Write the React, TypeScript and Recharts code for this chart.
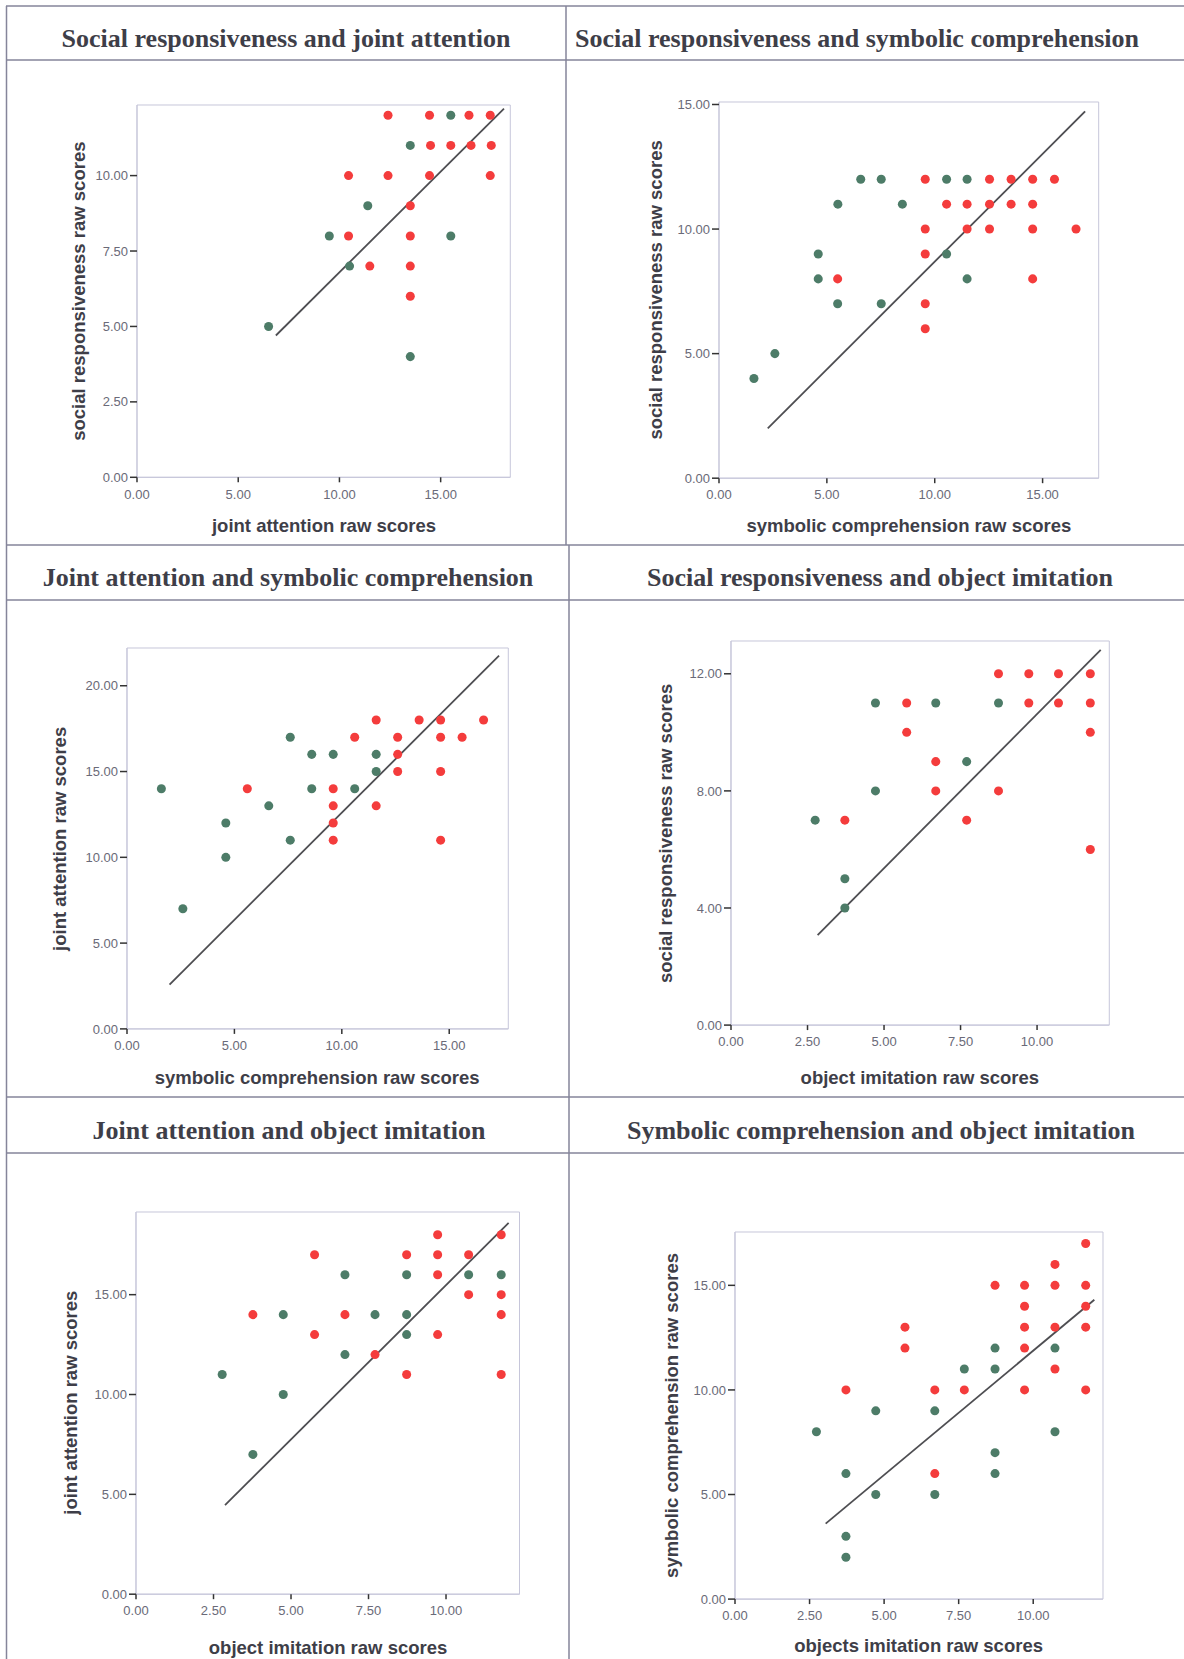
import { ReferenceArea, ReferenceLine, Scatter, ScatterChart, XAxis, YAxis } from "recharts";

type Pt = { x: number; y: number };
const pts = (a: number[][]): Pt[] => a.map(([x, y]) => ({ x, y }));

// panel 1: social responsiveness vs joint attention
const p1Green = pts([[6.5, 5], [9.5, 8], [10.5, 7], [11.4, 9], [13.5, 11], [13.5, 4], [15.5, 12], [15.5, 8]]);
const p1Red = pts([
  [12.4, 12], [14.45, 12], [16.4, 12], [17.45, 12], [14.5, 11], [15.5, 11], [16.5, 11], [17.5, 11],
  [10.45, 10], [12.4, 10], [14.45, 10], [17.45, 10], [13.5, 9], [10.45, 8], [13.5, 8], [11.5, 7], [13.5, 7], [13.5, 6],
]);
const p1Fit = [[6.86, 4.7], [18.13, 12.22]];

// panel 2: social responsiveness vs symbolic comprehension
const p2Green = pts([
  [6.57, 12], [7.52, 12], [10.55, 12], [11.5, 12], [5.51, 11], [8.5, 11], [4.6, 9], [10.55, 9],
  [4.6, 8], [11.5, 8], [5.5, 7], [7.52, 7], [2.59, 5], [1.62, 4],
]);
const p2Red = pts([
  [9.56, 12], [12.54, 12], [13.54, 12], [14.54, 12], [15.55, 12], [10.55, 11], [11.5, 11], [12.54, 11],
  [13.54, 11], [14.54, 11], [9.56, 10], [11.5, 10], [12.54, 10], [14.54, 10], [16.55, 10], [9.56, 9],
  [5.5, 8], [14.54, 8], [9.56, 7], [9.56, 6],
]);
const p2Fit = [[2.26, 2.0], [16.97, 14.72]];

// panel 3: joint attention vs symbolic comprehension
const p3Green = pts([
  [7.6, 17], [8.6, 16], [9.6, 16], [11.6, 16], [11.6, 15], [1.6, 14], [8.6, 14], [10.6, 14],
  [6.6, 13], [4.6, 12], [7.6, 11], [4.6, 10], [2.6, 7],
]);
const p3Red = pts([
  [11.6, 18], [13.6, 18], [14.6, 18], [16.6, 18], [10.6, 17], [12.6, 17], [14.6, 17], [15.6, 17],
  [12.6, 16], [12.6, 15], [14.6, 15], [5.6, 14], [9.6, 14], [9.6, 13], [11.6, 13], [9.6, 12], [9.6, 11], [14.6, 11],
]);
const p3Fit = [[1.98, 2.58], [17.32, 21.75]];

// panel 4: social responsiveness vs object imitation
const p4Green = pts([[4.72, 11], [6.69, 11], [8.74, 11], [7.7, 9], [4.72, 8], [2.75, 7], [3.72, 5], [3.72, 4]]);
const p4Red = pts([
  [8.74, 12], [9.73, 12], [10.7, 12], [11.74, 12], [5.74, 11], [9.73, 11], [10.7, 11], [11.74, 11],
  [5.74, 10], [11.74, 10], [6.69, 9], [6.69, 8], [8.74, 8], [3.72, 7], [7.7, 7], [11.74, 6],
]);
const p4Fit = [[2.83, 3.07], [12.08, 12.82]];

// panel 5: joint attention vs object imitation
const p5Green = pts([
  [6.74, 16], [8.73, 16], [10.73, 16], [11.78, 16], [4.75, 14], [7.71, 14], [8.73, 14], [8.73, 13],
  [6.74, 12], [2.78, 11], [4.75, 10], [3.77, 7],
]);
const p5Red = pts([
  [9.73, 18], [11.78, 18], [5.76, 17], [8.73, 17], [9.73, 17], [10.73, 17], [9.73, 16], [10.73, 15],
  [11.78, 15], [3.77, 14], [6.74, 14], [11.78, 14], [5.76, 13], [9.73, 13], [7.71, 12], [8.73, 11], [11.78, 11],
]);
const p5Fit = [[2.87, 4.46], [12.02, 18.6]];

// panel 6: symbolic comprehension vs object imitation
const p6Green = pts([
  [8.72, 12], [10.73, 12], [7.69, 11], [8.72, 11], [4.72, 9], [6.7, 9], [2.73, 8], [10.73, 8],
  [8.72, 7], [3.72, 6], [8.72, 6], [4.72, 5], [6.7, 5], [3.72, 3], [3.72, 2],
]);
const p6Red = pts([
  [11.76, 17], [10.73, 16], [8.72, 15], [9.71, 15], [10.73, 15], [11.76, 15], [9.71, 14], [11.76, 14],
  [5.7, 13], [9.71, 13], [10.73, 13], [11.76, 13], [5.7, 12], [9.71, 12], [10.73, 11], [3.72, 10],
  [6.7, 10], [7.69, 10], [9.71, 10], [11.76, 10], [6.7, 6],
]);
const p6Fit = [[3.04, 3.61], [12.05, 14.31]];

const ticks5 = [0, 5, 10, 15];
const ticks25 = [0, 2.5, 5, 7.5, 10];

const RED = "#f43c3c";
const GREEN = "#4d7c68";
const SANS = "'Liberation Sans', Arial, sans-serif";
const SERIF = "'Liberation Serif', 'Times New Roman', serif";

type Panel = {
  title: string; titleX: number; titleY: number;
  xTitle: string; yTitle: string; xTitleY: number; yTitleX: number;
  l: number; t: number; r: number; b: number;
  xMax: number; yMax: number; xTicks: number[]; yTicks: number[];
  green: Pt[]; red: Pt[]; fit: number[][];
};

const panels: Panel[] = [
  { title: "Social responsiveness and joint attention", titleX: 286, titleY: 47,
    xTitle: "joint attention raw scores", yTitle: "social responsiveness raw scores", xTitleY: 532, yTitleX: 79,
    l: 137.4, t: 105, r: 510.7, b: 477.3, xMax: 18.44, yMax: 12.34, xTicks: ticks5, yTicks: [0, 2.5, 5, 7.5, 10],
    green: p1Green, red: p1Red, fit: p1Fit },
  { title: "Social responsiveness and symbolic comprehension", titleX: 857, titleY: 47,
    xTitle: "symbolic comprehension raw scores", yTitle: "social responsiveness raw scores", xTitleY: 532, yTitleX: 656,
    l: 719, t: 101.8, r: 1098.7, b: 478, xMax: 17.6, yMax: 15.1, xTicks: ticks5, yTicks: ticks5,
    green: p2Green, red: p2Red, fit: p2Fit },
  { title: "Joint attention and symbolic comprehension", titleX: 288, titleY: 586,
    xTitle: "symbolic comprehension raw scores", yTitle: "joint attention raw scores", xTitleY: 1084, yTitleX: 60,
    l: 126.5, t: 648.4, r: 507.8, b: 1029.3, xMax: 17.75, yMax: 22.2, xTicks: ticks5, yTicks: [0, 5, 10, 15, 20],
    green: p3Green, red: p3Red, fit: p3Fit },
  { title: "Social responsiveness and object imitation", titleX: 880, titleY: 586,
    xTitle: "object imitation raw scores", yTitle: "social responsiveness raw scores", xTitleY: 1084, yTitleX: 666.5,
    l: 730.7, t: 641.3, r: 1109, b: 1025.4, xMax: 12.36, yMax: 13.12, xTicks: ticks25, yTicks: [0, 4, 8, 12],
    green: p4Green, red: p4Red, fit: p4Fit },
  { title: "Joint attention and object imitation", titleX: 289, titleY: 1139,
    xTitle: "object imitation raw scores", yTitle: "joint attention raw scores", xTitleY: 1654, yTitleX: 71,
    l: 136.3, t: 1211.6, r: 519.8, b: 1593.8, xMax: 12.37, yMax: 19.14, xTicks: ticks25, yTicks: ticks5,
    green: p5Green, red: p5Red, fit: p5Fit },
  { title: "Symbolic comprehension and object imitation", titleX: 881, titleY: 1139,
    xTitle: "objects imitation raw scores", yTitle: "symbolic comprehension raw scores", xTitleY: 1652, yTitleX: 671.6,
    l: 734.6, t: 1231.9, r: 1102.6, b: 1599, xMax: 12.34, yMax: 17.55, xTicks: ticks25, yTicks: ticks5,
    green: p6Green, red: p6Red, fit: p6Fit },
];

const YW = 60;
const XH = 30;
const MT = 12;
const MR = 2;

function ScatterPanel({ p }: { p: Panel }) {
  const w = p.r - p.l + YW + MR;
  const h = p.b - p.t + XH + MT;
  const tick = { fill: "#6a6a78", fontSize: 13, fontFamily: SANS };
  const fmt = (v: number) => v.toFixed(2);
  return (
    <div style={{ position: "absolute", left: p.l - YW, top: p.t - MT, width: w, height: h }}>
      <ScatterChart width={w} height={h} margin={{ top: MT, right: MR, bottom: 0, left: 0 }}>
        <XAxis type="number" dataKey="x" domain={[0, p.xMax]} ticks={p.xTicks} interval={0} tickFormatter={fmt}
          tick={tick} height={XH} tickSize={5} tickMargin={7} axisLine={{ stroke: "#c6c6da" }}
          tickLine={{ stroke: "#333", strokeWidth: 1.5 }} allowDataOverflow />
        <YAxis type="number" dataKey="y" domain={[0, p.yMax]} ticks={p.yTicks} interval={0} tickFormatter={fmt}
          tick={tick} width={YW} tickSize={7} tickMargin={2} axisLine={{ stroke: "#c6c6da" }}
          tickLine={{ stroke: "#333", strokeWidth: 1.5 }} allowDataOverflow />
        <ReferenceArea x1={0} x2={p.xMax} y1={0} y2={p.yMax} fill="none" stroke="#c6c6da" ifOverflow="visible" />
        <Scatter data={p.green} fill={GREEN} shape="circle" isAnimationActive={false} />
        <Scatter data={p.red} fill={RED} shape="circle" isAnimationActive={false} />
        <ReferenceLine segment={[{ x: p.fit[0][0], y: p.fit[0][1] }, { x: p.fit[1][0], y: p.fit[1][1] }]}
          stroke="#4e4e52" strokeWidth={1.8} ifOverflow="visible" />
      </ScatterChart>
    </div>
  );
}

export default function App() {
  const line = "#85859a";
  return (
    <div style={{ position: "absolute", left: 0, top: 0, width: 1184, height: 1659, background: "#fff", overflow: "hidden" }}>
      {panels.map((p, i) => (
        <ScatterPanel key={i} p={p} />
      ))}
      <svg width={1184} height={1659} style={{ position: "absolute", left: 0, top: 0, pointerEvents: "none" }}>
        {[6, 60, 545, 600, 1097, 1153].map((y) => (
          <line key={y} x1={6} x2={1184} y1={y} y2={y} stroke={line} strokeWidth={1.5} />
        ))}
        <line x1={6.5} x2={6.5} y1={6} y2={1659} stroke={line} strokeWidth={1.5} />
        <line x1={566} x2={566} y1={6} y2={545} stroke={line} strokeWidth={1.5} />
        <line x1={569} x2={569} y1={545} y2={1659} stroke={line} strokeWidth={1.5} />
        {panels.map((p, i) => {
          const cx = (p.l + p.r) / 2;
          const cy = (p.t + p.b) / 2;
          return (
            <g key={i}>
              <text x={p.titleX} y={p.titleY} textAnchor="middle" fontFamily={SERIF} fontWeight="bold" fontSize={26} fill="#3e3e48">
                {p.title}
              </text>
              <text x={cx} y={p.xTitleY} textAnchor="middle" fontFamily={SANS} fontWeight="bold" fontSize={18.5} fill="#3e3e48">
                {p.xTitle}
              </text>
              <text x={p.yTitleX + 6} y={cy} textAnchor="middle" fontFamily={SANS} fontWeight="bold" fontSize={18.5} fill="#3e3e48"
                transform={`rotate(-90 ${p.yTitleX + 6} ${cy})`}>
                {p.yTitle}
              </text>
            </g>
          );
        })}
      </svg>
    </div>
  );
}
